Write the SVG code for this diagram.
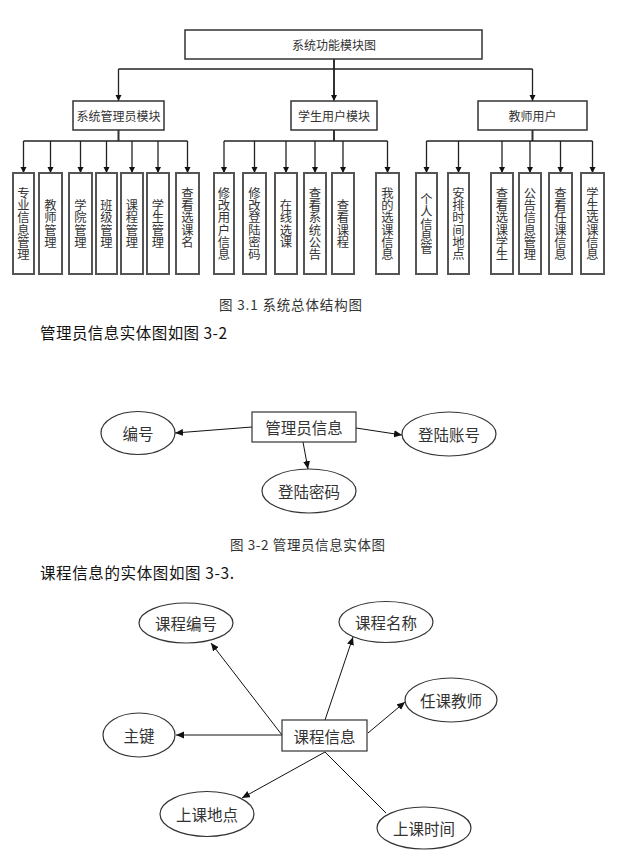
<svg xmlns="http://www.w3.org/2000/svg" width="619" height="860" viewBox="0 0 619 860">
<style>
text{font-family:"Noto Sans CJK SC","Liberation Sans",sans-serif;fill:#333;}
.t12{font-size:12px;text-anchor:middle;dominant-baseline:central;}
.leaf text{font-size:12.3px;text-anchor:middle;dominant-baseline:central;}
.er{font-size:15.5px;text-anchor:middle;dominant-baseline:central;}
.cap{font-size:13.5px;dominant-baseline:central;}
.body{font-size:15.5px;dominant-baseline:central;fill:#111;}
.box{fill:#fff;stroke:#333;stroke-width:1.5;}
.leafbox{fill:#fff;stroke:#555;stroke-width:2;}
.ell{fill:#fff;stroke:#333;stroke-width:1.2;}
.ln{fill:none;stroke:#222;stroke-width:1.3;}
.thick{fill:none;stroke:#333;stroke-width:2;}
.erl{fill:none;stroke:#111;stroke-width:1;}
</style>
<defs>
<marker id="ah" markerUnits="userSpaceOnUse" markerWidth="8" markerHeight="8" refX="6" refY="3" orient="auto">
<path d="M0,0 L6,3 L0,6 z" fill="#111"/>
</marker>
<marker id="ae" markerUnits="userSpaceOnUse" markerWidth="10" markerHeight="8" refX="8" refY="3.5" orient="auto">
<path d="M0,0 L8,3.5 L0,7 z" fill="#111"/>
</marker>
</defs>
<rect width="619" height="860" fill="#fff"/>

<g id="connectors">
<path class="thick" d="M334,59 V95"/>
<path class="ln" d="M118.5,69 H532.5"/>
<path class="ln" d="M118.5,69 V101" marker-end="url(#ah)"/>
<path class="ln" d="M334,90 V101" marker-end="url(#ah)"/>
<path class="ln" d="M532.5,69 V101" marker-end="url(#ah)"/>
<path class="thick" d="M118.5,130 V141"/>
<path class="thick" d="M334,130 V141"/>
<path class="thick" d="M532.5,130 V141"/>
<path class="ln" d="M23.5,141 H187.5"/>
<path class="ln" d="M224,141 H387.5"/>
<path class="ln" d="M426.5,141 H592.5"/>
<path class="ln" d="M23.5,141 V173" marker-end="url(#ah)"/>
<path class="ln" d="M50.5,141 V173" marker-end="url(#ah)"/>
<path class="ln" d="M80.5,141 V173" marker-end="url(#ah)"/>
<path class="ln" d="M106.5,141 V173" marker-end="url(#ah)"/>
<path class="ln" d="M132,141 V173" marker-end="url(#ah)"/>
<path class="ln" d="M158,141 V173" marker-end="url(#ah)"/>
<path class="ln" d="M187.5,141 V173" marker-end="url(#ah)"/>
<path class="ln" d="M224,141 V173" marker-end="url(#ah)"/>
<path class="ln" d="M254.5,141 V173" marker-end="url(#ah)"/>
<path class="ln" d="M286,141 V173" marker-end="url(#ah)"/>
<path class="ln" d="M315,141 V173" marker-end="url(#ah)"/>
<path class="ln" d="M343,141 V173" marker-end="url(#ah)"/>
<path class="ln" d="M387.5,141 V173" marker-end="url(#ah)"/>
<path class="ln" d="M426.5,141 V173" marker-end="url(#ah)"/>
<path class="ln" d="M458.5,141 V173" marker-end="url(#ah)"/>
<path class="ln" d="M502,141 V173" marker-end="url(#ah)"/>
<path class="ln" d="M530,141 V173" marker-end="url(#ah)"/>
<path class="ln" d="M560.5,141 V173" marker-end="url(#ah)"/>
<path class="ln" d="M592.5,141 V173" marker-end="url(#ah)"/>

<path class="erl" d="M252,427 L175,433" marker-end="url(#ae)"/>
<path class="erl" d="M356,428 L402,435" marker-end="url(#ae)"/>
<path class="erl" d="M303,442 L308,469" marker-end="url(#ae)"/>

<path class="erl" d="M282,735 L211,643" marker-end="url(#ae)"/>
<path class="erl" d="M325,720 L353,637" marker-end="url(#ae)"/>
<path class="erl" d="M368,733 L405,702" marker-end="url(#ae)"/>
<path class="erl" d="M282,735 L176,735" marker-end="url(#ae)"/>
<path class="erl" d="M325,752 L242,798" marker-end="url(#ae)"/>
<path class="erl" d="M325,752 L386,813"/>
</g>

<g id="n-root"><rect class="box" x="185" y="30" width="297" height="29"/><text class="t12" x="334" y="44.5">系统功能模块图</text></g>
<g id="n-admin"><rect class="box" x="73" y="101" width="91" height="29"/><text class="t12" x="118.5" y="115.5">系统管理员模块</text></g>
<g id="n-student"><rect class="box" x="291" y="101" width="86" height="29"/><text class="t12" x="334" y="115.5">学生用户模块</text></g>
<g id="n-teacher"><rect class="box" x="478" y="101" width="109" height="29"/><text class="t12" x="532.5" y="115.5">教师用户</text></g>

<g class="leaf">
<g id="l1"><rect class="leafbox" x="13" y="173" width="21" height="101"/><text><tspan x="23.5" y="193">专</tspan><tspan x="23.5" y="205.2">业</tspan><tspan x="23.5" y="217.4">信</tspan><tspan x="23.5" y="229.6">息</tspan><tspan x="23.5" y="241.8">管</tspan><tspan x="23.5" y="254">理</tspan></text></g>
<g id="l2"><rect class="leafbox" x="39" y="173" width="23" height="101"/><text><tspan x="50.5" y="205.2">教</tspan><tspan x="50.5" y="217.4">师</tspan><tspan x="50.5" y="229.6">管</tspan><tspan x="50.5" y="241.8">理</tspan></text></g>
<g id="l3"><rect class="leafbox" x="69" y="173" width="23" height="101"/><text><tspan x="80.5" y="205.2">学</tspan><tspan x="80.5" y="217.4">院</tspan><tspan x="80.5" y="229.6">管</tspan><tspan x="80.5" y="241.8">理</tspan></text></g>
<g id="l4"><rect class="leafbox" x="96" y="173" width="21" height="101"/><text><tspan x="106.5" y="205.2">班</tspan><tspan x="106.5" y="217.4">级</tspan><tspan x="106.5" y="229.6">管</tspan><tspan x="106.5" y="241.8">理</tspan></text></g>
<g id="l5"><rect class="leafbox" x="121" y="173" width="22" height="101"/><text><tspan x="132" y="205.2">课</tspan><tspan x="132" y="217.4">程</tspan><tspan x="132" y="229.6">管</tspan><tspan x="132" y="241.8">理</tspan></text></g>
<g id="l6"><rect class="leafbox" x="147" y="173" width="22" height="101"/><text><tspan x="158" y="205.2">学</tspan><tspan x="158" y="217.4">生</tspan><tspan x="158" y="229.6">管</tspan><tspan x="158" y="241.8">理</tspan></text></g>
<g id="l7"><rect class="leafbox" x="176" y="173" width="23" height="101"/><text><tspan x="187.5" y="193">查</tspan><tspan x="187.5" y="205.2">看</tspan><tspan x="187.5" y="217.4">选</tspan><tspan x="187.5" y="229.6">课</tspan><tspan x="187.5" y="241.8">名</tspan></text></g>

<g id="m1"><rect class="leafbox" x="214" y="173" width="20" height="101"/><text><tspan x="224" y="193">修</tspan><tspan x="224" y="205.2">改</tspan><tspan x="224" y="217.4">用</tspan><tspan x="224" y="229.6">户</tspan><tspan x="224" y="241.8">信</tspan><tspan x="224" y="254">息</tspan></text></g>
<g id="m2"><rect class="leafbox" x="243" y="173" width="23" height="101"/><text><tspan x="254.5" y="193">修</tspan><tspan x="254.5" y="205.2">改</tspan><tspan x="254.5" y="217.4">登</tspan><tspan x="254.5" y="229.6">陆</tspan><tspan x="254.5" y="241.8">密</tspan><tspan x="254.5" y="254">码</tspan></text></g>
<g id="m3"><rect class="leafbox" x="275" y="173" width="22" height="101"/><text><tspan x="286" y="205.2">在</tspan><tspan x="286" y="217.4">线</tspan><tspan x="286" y="229.6">选</tspan><tspan x="286" y="241.8">课</tspan></text></g>
<g id="m4"><rect class="leafbox" x="304" y="173" width="22" height="101"/><text><tspan x="315" y="193">查</tspan><tspan x="315" y="205.2">看</tspan><tspan x="315" y="217.4">系</tspan><tspan x="315" y="229.6">统</tspan><tspan x="315" y="241.8">公</tspan><tspan x="315" y="254">告</tspan></text></g>
<g id="m5"><rect class="leafbox" x="332" y="173" width="22" height="101"/><text><tspan x="343" y="205.2">查</tspan><tspan x="343" y="217.4">看</tspan><tspan x="343" y="229.6">课</tspan><tspan x="343" y="241.8">程</tspan></text></g>
<g id="m6"><rect class="leafbox" x="376" y="173" width="23" height="101"/><text><tspan x="387.5" y="193">我</tspan><tspan x="387.5" y="205.2">的</tspan><tspan x="387.5" y="217.4">选</tspan><tspan x="387.5" y="229.6">课</tspan><tspan x="387.5" y="241.8">信</tspan><tspan x="387.5" y="254">息</tspan></text></g>

<g id="r1"><rect class="leafbox" x="416" y="173" width="21" height="101"/><text><tspan x="426.5" y="199.1">个</tspan><tspan x="426.5" y="211.3">人</tspan><tspan x="426.5" y="223.5">信</tspan><tspan x="426.5" y="235.7">息</tspan><tspan x="426.5" y="247.9">管</tspan></text></g>
<g id="r2"><rect class="leafbox" x="448" y="173" width="21" height="101"/><text><tspan x="458.5" y="193">安</tspan><tspan x="458.5" y="205.2">排</tspan><tspan x="458.5" y="217.4">时</tspan><tspan x="458.5" y="229.6">间</tspan><tspan x="458.5" y="241.8">地</tspan><tspan x="458.5" y="254">点</tspan></text></g>
<g id="r3"><rect class="leafbox" x="491" y="173" width="22" height="101"/><text><tspan x="502" y="193">查</tspan><tspan x="502" y="205.2">看</tspan><tspan x="502" y="217.4">选</tspan><tspan x="502" y="229.6">课</tspan><tspan x="502" y="241.8">学</tspan><tspan x="502" y="254">生</tspan></text></g>
<g id="r4"><rect class="leafbox" x="519" y="173" width="22" height="101"/><text><tspan x="530" y="193">公</tspan><tspan x="530" y="205.2">告</tspan><tspan x="530" y="217.4">信</tspan><tspan x="530" y="229.6">息</tspan><tspan x="530" y="241.8">管</tspan><tspan x="530" y="254">理</tspan></text></g>
<g id="r5"><rect class="leafbox" x="549" y="173" width="23" height="101"/><text><tspan x="560.5" y="193">查</tspan><tspan x="560.5" y="205.2">看</tspan><tspan x="560.5" y="217.4">任</tspan><tspan x="560.5" y="229.6">课</tspan><tspan x="560.5" y="241.8">信</tspan><tspan x="560.5" y="254">息</tspan></text></g>
<g id="r6"><rect class="leafbox" x="581" y="173" width="23" height="101"/><text><tspan x="592.5" y="193">学</tspan><tspan x="592.5" y="205.2">生</tspan><tspan x="592.5" y="217.4">选</tspan><tspan x="592.5" y="229.6">课</tspan><tspan x="592.5" y="241.8">信</tspan><tspan x="592.5" y="254">息</tspan></text></g>
</g>

<text class="cap" x="219" y="304" textLength="143" lengthAdjust="spacing">图 3.1 系统总体结构图</text>
<text class="body" x="40" y="332" textLength="187" lengthAdjust="spacing">管理员信息实体图如图 3-2</text>

<g id="e-admin"><rect class="box" x="252" y="412" width="104" height="30" style="stroke-width:1.2"/><text class="er" x="304" y="427">管理员信息</text></g>
<g id="e-bh"><ellipse class="ell" cx="138" cy="433" rx="37" ry="21.5"/><text class="er" x="138" y="433">编号</text></g>
<g id="e-zh"><ellipse class="ell" cx="449" cy="434" rx="47" ry="22"/><text class="er" x="449" y="434">登陆账号</text></g>
<g id="e-mm"><ellipse class="ell" cx="309" cy="491" rx="47" ry="22"/><text class="er" x="309" y="491">登陆密码</text></g>

<text class="cap" x="230" y="544" textLength="155" lengthAdjust="spacing">图 3-2 管理员信息实体图</text>
<text class="body" x="40" y="572" textLength="194" lengthAdjust="spacing">课程信息的实体图如图 3-3.</text>

<g id="c-info"><rect class="box" x="282" y="720" width="85" height="31" style="stroke-width:1.2"/><text class="er" x="324.5" y="735.5">课程信息</text></g>
<g id="c-bh"><ellipse class="ell" cx="186" cy="623" rx="47" ry="20"/><text class="er" x="186" y="623">课程编号</text></g>
<g id="c-mc"><ellipse class="ell" cx="386" cy="622" rx="47" ry="20.5"/><text class="er" x="386" y="622">课程名称</text></g>
<g id="c-js"><ellipse class="ell" cx="451" cy="700" rx="46" ry="22"/><text class="er" x="451" y="700">任课教师</text></g>
<g id="c-zj"><ellipse class="ell" cx="139" cy="735" rx="36" ry="22"/><text class="er" x="139" y="735">主键</text></g>
<g id="c-dd"><ellipse class="ell" cx="207" cy="814" rx="47" ry="22.5"/><text class="er" x="207" y="814">上课地点</text></g>
<g id="c-sj"><ellipse class="ell" cx="424" cy="828" rx="47" ry="21"/><text class="er" x="424" y="828">上课时间</text></g>
</svg>
